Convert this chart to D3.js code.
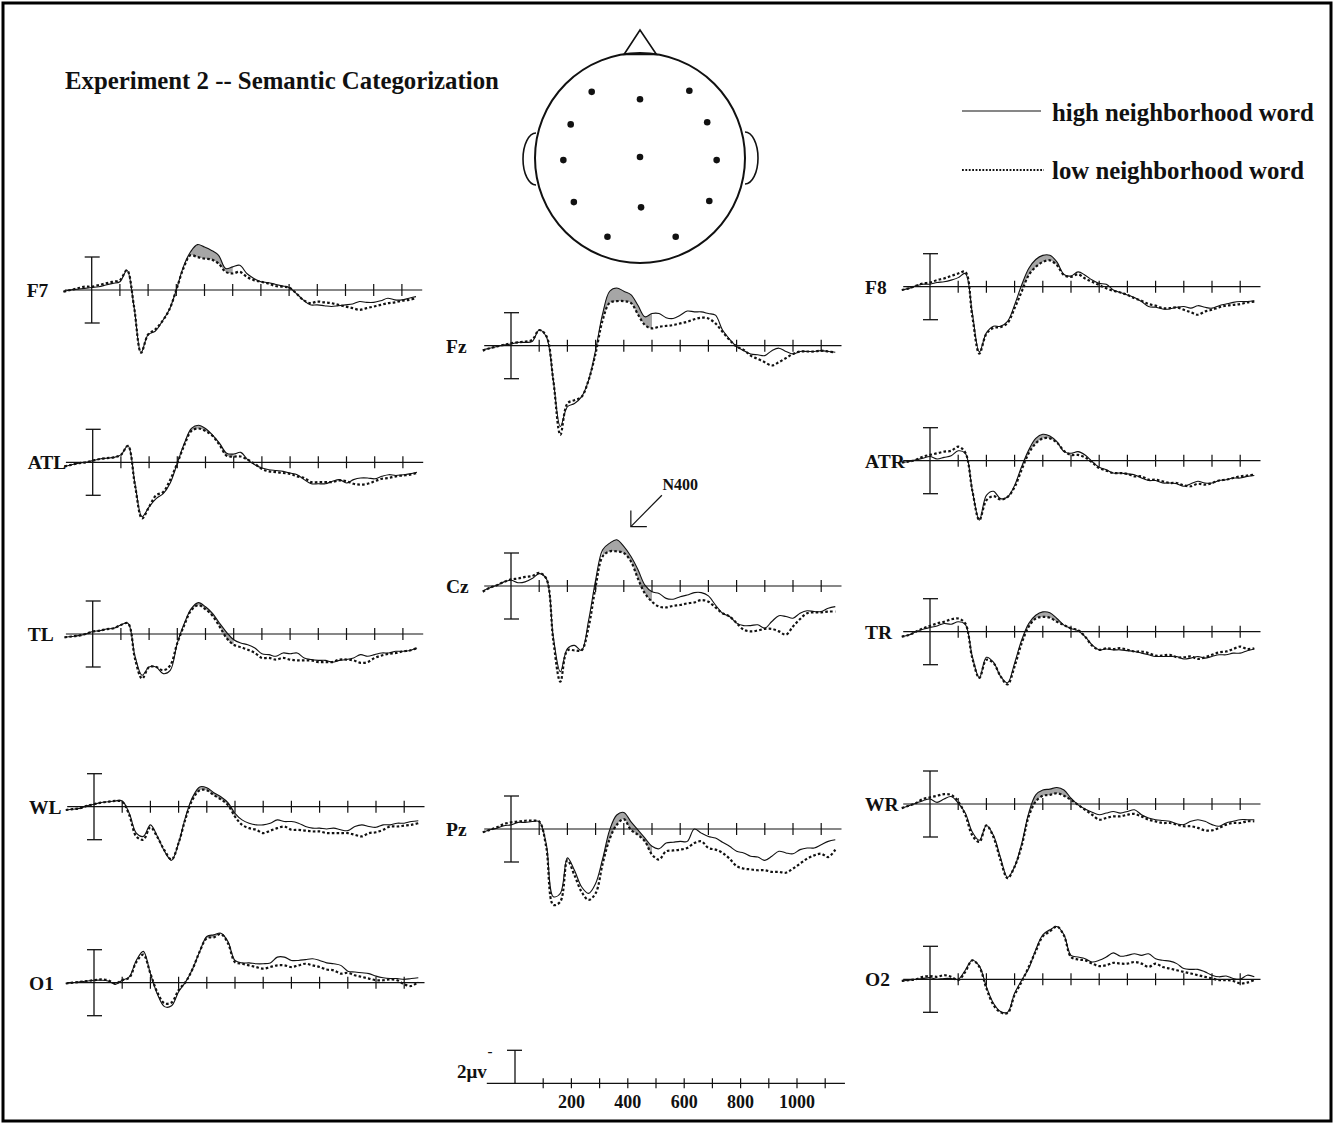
<!DOCTYPE html>
<html>
<head>
<meta charset="utf-8">
<script src="https://cdn.jsdelivr.net/npm/d3@7"></script>
<style>
  html, body { margin: 0; padding: 0; background: #fff; }
  svg text { font-family: "Liberation Serif", "Times New Roman", serif; font-weight: bold; fill: #111; }
</style>
</head>
<body>
<div id="chart"></div>
<script>
// sample times (ms) shared by every waveform
const times = [-100, -75, -50, -25, 0, 25, 50, 75, 100, 125,
  150, 175, 200, 225, 250, 275, 300, 325, 350, 375,
  400, 425, 450, 475, 500, 525, 550, 575, 600, 625,
  650, 675, 700, 725, 750, 775, 800, 825, 850, 875,
  900, 925, 950, 975, 1000, 1025, 1050, 1075, 1100, 1125,
  1150];
const tickTimes = [100, 200, 300, 400, 500, 600, 700, 800, 900, 1000, 1100];
const tickLabels = [200, 400, 600, 800, 1000];

// amplitudes in microvolts (negative plotted up)
const highF7 = [0.1, 0, -0.05, -0.1, -0.15, -0.2, -0.3, -0.4, -0.5, -1.2,
  1.0, 3.8, 2.7, 2.5, 1.9, 1.2, 0, -1.4, -2.3, -2.75,
  -2.6, -2.4, -2.1, -1.3, -1.4, -1.5, -1.0, -0.7, -0.5, -0.45,
  -0.35, -0.25, -0.15, 0.2, 0.6, 0.9, 0.9, 0.95, 1.0, 0.95,
  0.9, 0.85, 0.7, 0.75, 0.75, 0.65, 0.5, 0.6, 0.6, 0.5,
  0.4];
const lowF7 = [0.1, 0, -0.1, -0.2, -0.2, -0.3, -0.4, -0.5, -0.6, -1.2,
  1.0, 3.8, 2.7, 2.4, 1.9, 1.2, 0, -1.3, -2.1, -2.0,
  -1.9, -1.85, -1.6, -1.1, -1.0, -1.1, -0.8, -0.6, -0.5, -0.4,
  -0.25, -0.2, -0.15, 0.2, 0.6, 0.8, 0.7, 0.75, 0.8, 0.9,
  1.0, 1.1, 1.2, 1.1, 1.0, 0.9, 0.8, 0.75, 0.65, 0.6,
  0.5];

const highFz = [0.25, 0.15, 0.05, -0.05, -0.1, -0.2, -0.2, -0.25, -0.95, -0.55,
  2.1, 4.9, 3.7, 3.5, 3.1, 2.1, 0.26, -1.95, -3.3, -3.5,
  -3.3, -3.1, -2.45, -1.75, -1.95, -1.95, -1.7, -1.65, -1.85, -2.1,
  -2.05, -2.05, -1.95, -1.85, -0.95, -0.4, 0.05, 0.3, 0.5, 0.55,
  0.6, 0.3, 0.15, 0.35, 0.5, 0.35, 0.35, 0.35, 0.3, 0.35,
  0.4];
const lowFz = [0.3, 0.15, 0.05, -0.05, -0.15, -0.2, -0.25, -0.35, -0.95, -0.6,
  2.1, 5.4, 3.5, 3.3, 3.1, 2.1, 0.46, -1.55, -2.6, -2.7,
  -2.7, -2.6, -1.9, -1.25, -1.05, -1.15, -1.2, -1.25, -1.35, -1.45,
  -1.6, -1.7, -1.65, -1.35, -0.85, -0.35, 0.05, 0.25, 0.6, 0.8,
  1.0, 1.2, 1.0, 0.75, 0.5, 0.35, 0.35, 0.35, 0.3, 0.35,
  0.4];

const highCz = [0.3, 0.1, -0.05, -0.25, -0.35, -0.2, -0.25, -0.45, -0.75, -0.45,
  3.1, 5.2, 3.8, 3.6, 3.9, 2.1, -0.35, -2.2, -2.6, -2.8,
  -2.4, -1.8, -1.0, -0.05, 0.35, 0.45, 0.75, 0.8, 0.65, 0.55,
  0.4, 0.4, 0.6, 1.15, 1.65, 1.85, 2.25, 2.4, 2.4, 2.35,
  2.55, 2.15, 1.8, 1.85, 1.95, 1.65, 1.5, 1.55, 1.55, 1.35,
  1.25];
const lowCz = [0.35, 0.1, -0.05, -0.25, -0.4, -0.45, -0.55, -0.6, -0.8, -0.45,
  3.3, 5.8, 3.9, 3.9, 3.9, 2.5, 0.05, -1.8, -2.1, -2.1,
  -2.0, -1.5, -0.45, 0.45, 0.95, 1.25, 1.3, 1.2, 1.15, 1.05,
  1.0, 0.85, 0.95, 1.3, 1.65, 1.85, 2.25, 2.65, 2.75, 2.7,
  2.6, 2.6, 2.75, 2.95, 2.45, 2.0, 1.65, 1.6, 1.6, 1.55,
  1.55];

const highPz = [0.2, 0.05, -0.05, -0.2, -0.25, -0.4, -0.4, -0.45, -0.45, 0.9,
  4.1, 3.9, 1.75, 2.5, 3.5, 3.9, 3.3, 1.8, 0.05, -0.85,
  -1.0, -0.45, 0.05, 0.55, 1.05, 1.2, 0.85, 0.8, 0.75, 0.75,
  0.0, 0.25, 0.45, 0.55, 0.8, 1.05, 1.35, 1.45, 1.65, 1.7,
  1.9, 1.65, 1.35, 1.45, 1.5, 1.25, 1.15, 1.15, 0.95, 0.75,
  0.65];
const lowPz = [0.2, 0.05, -0.1, -0.3, -0.4, -0.45, -0.5, -0.5, -0.45, 1.1,
  4.6, 4.4, 1.9, 2.8, 3.8, 4.3, 3.9, 2.1, 0.6, -0.25,
  -0.6, 0.05, 0.35, 0.75, 1.55, 1.85, 1.35, 1.3, 1.25, 1.15,
  0.85, 0.75, 1.15, 1.25, 1.45, 1.8, 2.25, 2.4, 2.45, 2.5,
  2.5, 2.6, 2.6, 2.65, 2.4, 2.1, 1.8, 1.6, 1.5, 1.7,
  1.25];

const highATL = [0.25, 0.15, 0.05, 0, -0.1, -0.2, -0.25, -0.3, -0.45, -1.0,
  1.3, 3.3, 2.7, 2.2, 1.9, 1.25, 0.05, -1.15, -2.05, -2.25,
  -2.05, -1.65, -1.15, -0.55, -0.5, -0.6, -0.15, 0.15, 0.35, 0.45,
  0.5, 0.55, 0.65, 0.75, 1.05, 1.3, 1.3, 1.3, 1.15, 1.05,
  1.25, 1.05, 0.95, 0.95, 1.0, 0.85, 0.75, 0.8, 0.75, 0.7,
  0.6];
const lowATL = [0.25, 0.15, 0.05, 0, -0.1, -0.2, -0.25, -0.3, -0.45, -1.0,
  1.4, 3.4, 2.7, 2.0, 1.8, 1.05, 0.05, -1.05, -1.9, -2.05,
  -1.9, -1.6, -1.05, -0.4, -0.35, -0.35, -0.15, 0.1, 0.4, 0.55,
  0.6, 0.65, 0.7, 0.85, 0.95, 1.2, 1.2, 1.2, 1.2, 1.1,
  1.15, 1.3, 1.35, 1.3, 1.15, 1.0, 0.95, 0.85, 0.8, 0.75,
  0.65];

const highTL = [0.2, 0.15, 0.1, 0, -0.15, -0.2, -0.3, -0.35, -0.55, -0.65,
  1.35, 2.5, 2.0, 2.0, 2.4, 2.2, 0.55, -0.65, -1.55, -1.9,
  -1.65, -1.25, -0.65, -0.1, 0.35, 0.55, 0.65, 0.85, 1.2, 1.25,
  1.35, 1.15, 1.2, 1.15, 1.45, 1.55, 1.6, 1.6, 1.7, 1.6,
  1.55, 1.45, 1.25, 1.35, 1.25, 1.15, 1.15, 1.05, 1.05, 1.0,
  0.85];
const lowTL = [0.2, 0.15, 0.1, 0, -0.15, -0.2, -0.3, -0.35, -0.55, -0.65,
  1.5, 2.7, 2.0, 2.0, 2.2, 1.9, 0.55, -0.55, -1.45, -1.75,
  -1.5, -1.1, -0.45, 0.25, 0.65, 0.8, 0.95, 1.15, 1.45, 1.45,
  1.55, 1.45, 1.55, 1.6, 1.6, 1.6, 1.7, 1.7, 1.7, 1.55,
  1.55, 1.6, 1.75, 1.7, 1.45, 1.3, 1.2, 1.15, 1.05, 1.0,
  0.85];

const highWL = [0.2, 0.15, 0.1, -0.05, -0.15, -0.25, -0.3, -0.35, -0.35, 0.4,
  1.6, 1.8, 1.1, 1.8, 2.7, 3.25, 2.2, 0.6, -0.6, -1.2,
  -1.15, -0.85, -0.6, -0.25, 0.4, 0.8, 1.0, 1.1, 1.1, 1.0,
  0.8, 0.9, 0.9, 1.0, 1.2, 1.3, 1.3, 1.35, 1.3, 1.4,
  1.45, 1.2, 1.1, 1.2, 1.25, 1.1, 1.1, 1.0, 1.0, 0.9,
  0.85];
const lowWL = [0.2, 0.15, 0.1, -0.05, -0.15, -0.25, -0.3, -0.35, -0.3, 0.5,
  1.8, 2.0, 1.25, 1.85, 2.65, 3.2, 2.2, 0.7, -0.45, -1.0,
  -1.0, -0.7, -0.45, -0.1, 0.6, 1.1, 1.3, 1.4, 1.6, 1.45,
  1.3, 1.2, 1.4, 1.4, 1.45, 1.5, 1.5, 1.6, 1.6, 1.6,
  1.6, 1.7, 1.8, 1.6, 1.55, 1.4, 1.2, 1.2, 1.15, 1.1,
  1.0];

const highO1 = [0.05, 0, -0.05, -0.1, -0.15, -0.15, -0.1, 0.1, -0.15, -0.35,
  -1.35, -1.9, -0.55, 0.7, 1.45, 1.4, 0.55, -0.05, -0.85, -1.9,
  -2.8, -2.9, -3.0, -2.5, -1.35, -1.2, -1.2, -1.15, -1.15, -1.2,
  -1.55, -1.55, -1.35, -1.35, -1.4, -1.45, -1.35, -1.2, -1.15, -1.05,
  -0.7, -0.65, -0.6, -0.55, -0.4, -0.3, -0.25, -0.25, -0.2, -0.25,
  -0.3];
const lowO1 = [0.05, 0, -0.05, -0.1, -0.15, -0.2, -0.15, 0.05, -0.15, -0.3,
  -1.25, -1.7, -0.55, 0.6, 1.25, 1.2, 0.45, -0.05, -0.85, -1.9,
  -2.7, -2.75, -2.95, -2.4, -1.25, -1.15, -1.05, -0.95, -0.85, -0.95,
  -1.05, -1.05, -0.95, -1.05, -1.15, -1.05, -0.95, -0.8, -0.75, -0.55,
  -0.6, -0.45, -0.35, -0.25, -0.15, -0.15, -0.2, -0.15, 0.1, 0.2,
  -0.05];

const highF8 = [0.2, 0.1, -0.05, -0.15, -0.15, -0.25, -0.3, -0.4, -0.55, -0.8,
  1.6, 3.95, 2.8, 2.4, 2.4, 2.1, 1.1, -0.1, -1.1, -1.65,
  -1.9, -1.9, -1.5, -0.75, -0.65, -0.9, -0.7, -0.4, -0.2, -0.15,
  0.2, 0.35, 0.5, 0.65, 0.9, 1.2, 1.25, 1.35, 1.35, 1.25,
  1.2, 1.3, 1.15, 1.25, 1.3, 1.15, 1.05, 0.95, 0.9, 0.9,
  0.85];
const lowF8 = [0.2, 0.1, -0.05, -0.2, -0.25, -0.4, -0.5, -0.65, -0.8, -0.9,
  1.8, 4.05, 2.85, 2.5, 2.45, 2.2, 1.3, 0.3, -0.7, -1.2,
  -1.5, -1.6, -1.3, -0.7, -0.6, -0.75, -0.5, -0.3, -0.1, 0.1,
  0.25, 0.35, 0.5, 0.7, 0.85, 1.05, 1.15, 1.3, 1.3, 1.25,
  1.4, 1.55, 1.7, 1.5, 1.4, 1.25, 1.15, 1.1, 1.05, 0.95,
  0.9];

const highATR = [0.1, 0.05, -0.05, -0.15, -0.25, -0.1, -0.2, -0.3, -0.6, -0.45,
  1.8, 3.6, 2.1, 1.85, 2.3, 2.2, 1.5, 0.35, -0.65, -1.35,
  -1.6, -1.5, -1.15, -0.55, -0.45, -0.55, -0.35, 0.05, 0.4, 0.55,
  0.75, 0.75, 0.8, 0.85, 1.05, 1.2, 1.2, 1.35, 1.35, 1.4,
  1.55, 1.4, 1.25, 1.35, 1.35, 1.2, 1.15, 1.05, 1.05, 0.95,
  0.9];
const lowATR = [0.1, 0.05, -0.05, -0.25, -0.35, -0.45, -0.55, -0.6, -0.85, -0.5,
  1.8, 3.6, 2.4, 2.15, 2.35, 2.2, 1.6, 0.55, -0.45, -1.05,
  -1.35, -1.35, -1.1, -0.6, -0.35, -0.35, -0.2, 0.1, 0.45, 0.6,
  0.75, 0.75, 0.8, 0.95, 0.95, 1.15, 1.15, 1.25, 1.35, 1.35,
  1.5, 1.55, 1.4, 1.45, 1.35, 1.2, 1.15, 1.05, 0.95, 0.9,
  0.85];

const highTR = [0.3, 0.2, 0, -0.15, -0.25, -0.35, -0.5, -0.45, -0.6, -0.45,
  1.5, 2.8, 1.55, 1.85, 2.7, 3.1, 1.9, 0.5, -0.5, -1.0,
  -1.2, -1.15, -0.8, -0.4, -0.2, -0.05, 0.3, 0.8, 1.1, 1.05,
  1.1, 1.1, 1.15, 1.2, 1.3, 1.4, 1.5, 1.5, 1.5, 1.5,
  1.65, 1.6, 1.5, 1.6, 1.5, 1.4, 1.4, 1.3, 1.3, 1.15,
  1.05];
const lowTR = [0.3, 0.2, 0, -0.2, -0.35, -0.5, -0.6, -0.75, -0.8, -0.5,
  1.6, 2.8, 1.7, 1.9, 2.7, 3.2, 2.1, 0.7, -0.3, -0.8,
  -0.9, -0.85, -0.6, -0.4, -0.2, -0.1, 0.3, 0.85, 1.1, 1.0,
  1.05, 1.0, 1.1, 1.2, 1.2, 1.3, 1.45, 1.45, 1.4, 1.55,
  1.55, 1.5, 1.65, 1.55, 1.4, 1.25, 1.2, 1.05, 0.9, 1.05,
  1.0];

const highWR = [0.25, 0.1, -0.05, -0.2, -0.3, -0.1, -0.3, -0.45, -0.05, 0.55,
  1.7, 2.2, 1.3, 1.9, 3.25, 4.45, 3.8, 2.4, 0.55, -0.55,
  -0.85, -0.9, -1.0, -0.85, -0.35, 0.05, 0.3, 0.5, 0.65, 0.55,
  0.45, 0.55, 0.45, 0.35, 0.65, 0.85, 0.95, 1.0, 1.05, 1.2,
  1.25, 1.05, 0.95, 1.05, 1.25, 1.35, 1.15, 1.05, 0.95, 0.95,
  0.95];
const lowWR = [0.25, 0.1, -0.05, -0.3, -0.4, -0.5, -0.6, -0.55, -0.15, 0.65,
  1.9, 2.3, 1.3, 2.0, 3.4, 4.5, 3.8, 2.55, 0.75, -0.15,
  -0.5, -0.55, -0.65, -0.5, -0.25, 0.05, 0.35, 0.65, 0.95, 0.85,
  0.75, 0.75, 0.65, 0.6, 0.75, 0.95, 1.05, 1.15, 1.15, 1.25,
  1.35, 1.35, 1.45, 1.6, 1.6, 1.45, 1.25, 1.15, 1.15, 1.05,
  1.05];

const highO2 = [0.1, 0.05, 0, -0.05, -0.1, 0, -0.05, -0.05, 0, -0.55,
  -1.15, -0.8, 0.45, 1.45, 1.95, 2.0, 0.85, 0.05, -0.65, -1.8,
  -2.7, -3.0, -3.2, -2.7, -1.45, -1.35, -1.25, -1.05, -1.15, -1.35,
  -1.6, -1.4, -1.45, -1.55, -1.45, -1.55, -1.25, -1.15, -1.1, -0.95,
  -0.65, -0.6, -0.6, -0.45, -0.25, -0.15, -0.2, -0.05, 0, -0.25,
  -0.15];
const lowO2 = [0.1, 0.05, 0, -0.15, -0.2, -0.15, -0.25, -0.15, 0.05, -0.45,
  -1.15, -0.75, 0.55, 1.55, 2.0, 2.05, 0.95, 0.15, -0.75, -1.7,
  -2.6, -2.9, -3.2, -2.65, -1.35, -1.2, -1.15, -0.95, -0.8, -0.85,
  -1.0, -0.95, -0.95, -1.05, -0.95, -0.75, -0.95, -0.75, -0.65, -0.55,
  -0.45, -0.35, -0.25, -0.15, -0.05, 0.05, 0.05, 0.1, 0.25, 0.2,
  0.05];

// electrode sites on the head, in head radii from its centre
const electrodeSites = [
  [-0.46, -0.63], [0.0, -0.56], [0.47, -0.64],
  [-0.66, -0.32], [0.64, -0.34],
  [-0.73, 0.02], [0.0, -0.01], [0.73, 0.02],
  [-0.63, 0.42], [0.01, 0.47], [0.66, 0.41],
  [-0.31, 0.75], [0.34, 0.75]
];

// layout: time-zero x and baseline y of each panel
const panels = [
  { name: 'F7', high: highF7, low: lowF7, x0: 91.7, y0: 290 },
  { name: 'ATL', high: highATL, low: lowATL, x0: 92.7, y0: 462.3 },
  { name: 'TL', high: highTL, low: lowTL, x0: 92.7, y0: 634 },
  { name: 'WL', high: highWL, low: lowWL, x0: 94, y0: 806.7 },
  { name: 'O1', high: highO1, low: lowO1, x0: 94, y0: 982.7 },
  { name: 'Fz', high: highFz, low: lowFz, x0: 511, y0: 345.7 },
  { name: 'Cz', high: highCz, low: lowCz, x0: 511, y0: 586 },
  { name: 'Pz', high: highPz, low: lowPz, x0: 511, y0: 829 },
  { name: 'F8', high: highF8, low: lowF8, x0: 930, y0: 286.7 },
  { name: 'ATR', high: highATR, low: lowATR, x0: 930, y0: 460.7 },
  { name: 'TR', high: highTR, low: lowTR, x0: 930, y0: 631.7 },
  { name: 'WR', high: highWR, low: lowWR, x0: 930, y0: 804 },
  { name: 'O2', high: highO2, low: lowO2, x0: 930, y0: 979.3 }
];

const config = {
  width: 1336,
  height: 1124,
  msPx: 0.282,      // pixels per millisecond
  uvPx: 16.5,       // pixels per microvolt
  shadeWindow: [325, 500],
  shadeColor: '#a6a6a6',
  curve: d3.curveCatmullRom.alpha(0.5)
};

panels.forEach(p => {
  if (p.high.length !== times.length || p.low.length !== times.length) {
    throw new Error('length mismatch in ' + p.name + ': ' + p.high.length + '/' + p.low.length);
  }
});

const svg = d3.select('#chart')
  .append('svg')
  .attr('width', config.width)
  .attr('height', config.height);
const defs = svg.append('defs');

// outer frame
svg.append('rect')
  .attr('x', 3).attr('y', 3)
  .attr('width', 1328).attr('height', 1118)
  .attr('fill', 'none').attr('stroke', '#000').attr('stroke-width', 3);

function makeScales(x0, y0) {
  const x = d3.scaleLinear().domain([0, 1000]).range([x0, x0 + 1000 * config.msPx]);
  // negative up
  const y = d3.scaleLinear().domain([-2, 2]).range([y0 - 2 * config.uvPx, y0 + 2 * config.uvPx]);
  return { x, y };
}

function drawPanel(p) {
  const { x, y } = makeScales(p.x0, p.y0);
  const g = svg.append('g').attr('class', 'panel panel-' + p.name);

  // shaded difference in the N400 window
  const clipId = 'clip-' + p.name;
  defs.append('clipPath').attr('id', clipId)
    .append('rect')
    .attr('x', x(config.shadeWindow[0]))
    .attr('y', p.y0 - 150)
    .attr('width', x(config.shadeWindow[1]) - x(config.shadeWindow[0]))
    .attr('height', 300);
  const area = d3.area()
    .x((d, i) => x(times[i]))
    .y0((d, i) => y(p.low[i]))
    .y1((d, i) => y(p.high[i]))
    .curve(config.curve);
  g.append('path')
    .datum(times)
    .attr('d', area)
    .attr('fill', config.shadeColor)
    .attr('clip-path', `url(#${clipId})`);

  // time axis
  g.append('line')
    .attr('x1', x(-95)).attr('x2', x(1172))
    .attr('y1', y(0)).attr('y2', y(0))
    .attr('stroke', '#111').attr('stroke-width', 1.2);
  g.selectAll('.tick')
    .data(tickTimes)
    .join('line')
    .attr('class', 'tick')
    .attr('x1', d => x(d)).attr('x2', d => x(d))
    .attr('y1', y(0) - 6).attr('y2', y(0) + 6)
    .attr('stroke', '#111').attr('stroke-width', 1.2);

  // calibration bar (+/- 2 microvolts)
  g.append('line')
    .attr('x1', x(0)).attr('x2', x(0))
    .attr('y1', y(-2)).attr('y2', y(2))
    .attr('stroke', '#111').attr('stroke-width', 1.3);
  g.selectAll('.cap')
    .data([-2, 2])
    .join('line')
    .attr('class', 'cap')
    .attr('x1', x(0) - 7).attr('x2', x(0) + 8)
    .attr('y1', d => y(d)).attr('y2', d => y(d))
    .attr('stroke', '#111').attr('stroke-width', 1.3);

  const line = d3.line()
    .x((d, i) => x(times[i]))
    .y(d => y(d))
    .curve(config.curve);

  g.append('path')
    .datum(p.high)
    .attr('d', line)
    .attr('fill', 'none')
    .attr('stroke', '#111')
    .attr('stroke-width', 1.1);
  g.append('path')
    .datum(p.low)
    .attr('d', line)
    .attr('fill', 'none')
    .attr('stroke', '#111')
    .attr('stroke-width', 2.2)
    .attr('stroke-dasharray', '2.6,2.2');

  g.append('text')
    .attr('x', p.x0 - 65)
    .attr('y', p.y0 + 7)
    .style('font-size', '19.5px')
    .text(p.name);

  return { x, y };
}

const scalesByName = {};
panels.forEach(p => { scalesByName[p.name] = drawPanel(p); });

// N400 annotation on Cz
(function () {
  const { x, y } = scalesByName['Cz'];
  const tip = [x(425), y(-3.6)];
  const tail = [x(535), y(-5.5)];
  const g = svg.append('g').attr('class', 'n400');
  g.append('line')
    .attr('x1', tail[0]).attr('y1', tail[1])
    .attr('x2', tip[0]).attr('y2', tip[1])
    .attr('stroke', '#111').attr('stroke-width', 1.2);
  g.append('path')
    .attr('d', `M${tip[0]},${tip[1] - 16}L${tip[0]},${tip[1]}L${tip[0] + 16},${tip[1]}`)
    .attr('fill', 'none').attr('stroke', '#111').attr('stroke-width', 1.2);
  g.append('text')
    .attr('x', x(600)).attr('y', y(-5.8))
    .attr('text-anchor', 'middle')
    .style('font-size', '16px')
    .text('N400');
})();

// title
svg.append('text')
  .attr('x', 65).attr('y', 89)
  .style('font-size', '24.8px')
  .text('Experiment 2 -- Semantic Categorization');

// legend
const legend = svg.append('g').attr('class', 'legend');
legend.append('line')
  .attr('x1', 962).attr('x2', 1041).attr('y1', 111).attr('y2', 111)
  .attr('stroke', '#111').attr('stroke-width', 1.2);
legend.append('line')
  .attr('x1', 962).attr('x2', 1044).attr('y1', 170).attr('y2', 170)
  .attr('stroke', '#111').attr('stroke-width', 1.8).attr('stroke-dasharray', '1.8,1.6');
legend.append('text')
  .attr('x', 1052).attr('y', 121)
  .style('font-size', '24.8px')
  .text('high neighborhood word');
legend.append('text')
  .attr('x', 1052).attr('y', 179)
  .style('font-size', '24.8px')
  .text('low neighborhood word');

// head diagram
const head = { cx: 640, cy: 158, r: 105 };
const hg = svg.append('g').attr('class', 'head');
hg.append('path')
  .attr('d', `M${head.cx - 16},${head.cy - head.r + 1.5}L${head.cx},${head.cy - head.r - 23}L${head.cx + 16.5},${head.cy - head.r + 1.5}Z`)
  .attr('fill', '#fff').attr('stroke', '#111').attr('stroke-width', 1.6);
hg.append('path')
  .attr('d', `M${head.cx - head.r + 1},${head.cy - 25}A13 26 0 0 0 ${head.cx - head.r + 1},${head.cy + 27}`)
  .attr('fill', 'none').attr('stroke', '#111').attr('stroke-width', 1.6);
hg.append('path')
  .attr('d', `M${head.cx + head.r},${head.cy - 26}A13 26 0 0 1 ${head.cx + head.r},${head.cy + 26}`)
  .attr('fill', 'none').attr('stroke', '#111').attr('stroke-width', 1.6);
hg.append('circle')
  .attr('cx', head.cx).attr('cy', head.cy).attr('r', head.r)
  .attr('fill', 'none').attr('stroke', '#111').attr('stroke-width', 2);
hg.selectAll('.site')
  .data(electrodeSites)
  .join('circle')
  .attr('class', 'site')
  .attr('cx', d => head.cx + d[0] * head.r)
  .attr('cy', d => head.cy + d[1] * head.r)
  .attr('r', 3.3)
  .attr('fill', '#111');

// scale reference: 2 microvolt bar and time axis in ms
(function () {
  const { x, y } = makeScales(515, 1083.3);
  const g = svg.append('g').attr('class', 'scale-ref');
  g.append('line')
    .attr('x1', x(-100)).attr('x2', x(1170))
    .attr('y1', y(0)).attr('y2', y(0))
    .attr('stroke', '#111').attr('stroke-width', 1.2);
  g.selectAll('.tick')
    .data(tickTimes)
    .join('line')
    .attr('x1', d => x(d)).attr('x2', d => x(d))
    .attr('y1', y(0) - 5).attr('y2', y(0) + 5)
    .attr('stroke', '#111').attr('stroke-width', 1.2);
  g.selectAll('.tlabel')
    .data(tickLabels)
    .join('text')
    .attr('class', 'tlabel')
    .attr('x', d => x(d)).attr('y', 1108)
    .attr('text-anchor', 'middle')
    .style('font-size', '18px')
    .text(d => d);
  g.append('line')
    .attr('x1', x(0)).attr('x2', x(0))
    .attr('y1', y(-2)).attr('y2', y(0))
    .attr('stroke', '#111').attr('stroke-width', 1.3);
  g.append('line')
    .attr('x1', x(0) - 8).attr('x2', x(0) + 7)
    .attr('y1', y(-2)).attr('y2', y(-2))
    .attr('stroke', '#111').attr('stroke-width', 1.3);
  g.append('text')
    .attr('x', 490).attr('y', 1056)
    .attr('text-anchor', 'middle')
    .style('font-size', '15px')
    .text('-');
  g.append('text')
    .attr('x', 457).attr('y', 1078)
    .style('font-size', '19px')
    .text('2μv');
})();
</script>
</body>
</html>
